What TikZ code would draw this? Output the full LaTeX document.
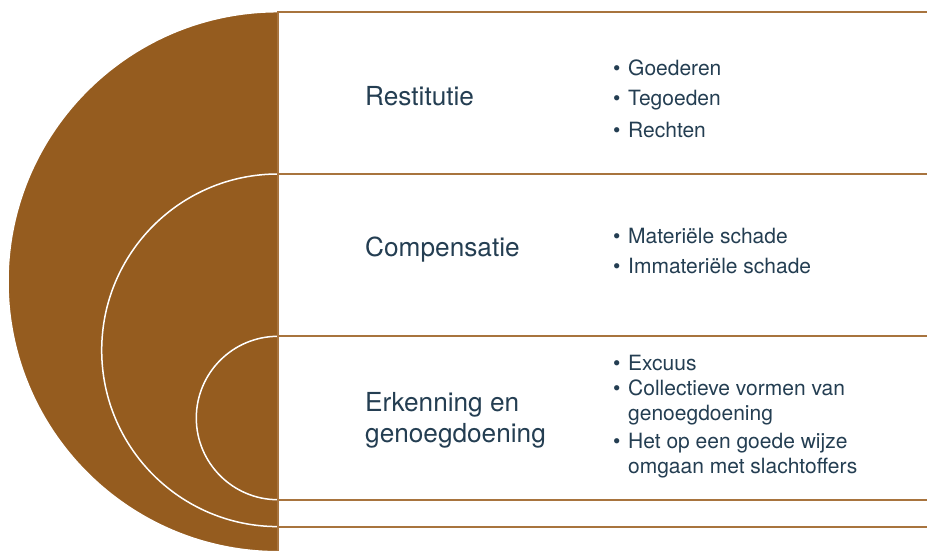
\documentclass[tikz,border=0pt]{standalone}
\usepackage{fontspec}
\setmainfont{TeX Gyre Heros}
\definecolor{ringbrown}{RGB}{149,92,31}
\definecolor{edgetan}{RGB}{168,116,62}
\definecolor{labelblue}{RGB}{36,62,82}
\newcommand{\bul}{\makebox[15pt][l]{\textbullet}}
\begin{document}
\begin{tikzpicture}[x=1pt,y=-1pt,
    ring/.style={fill=ringbrown,draw=white,line width=1.5pt},
    band/.style={fill=white,draw=edgetan,line width=1.8pt},
    title/.style={anchor=base west,inner sep=0pt,text=labelblue,
      font=\fontsize{26.2}{30.6}\selectfont,align=left},
    item/.style={anchor=base west,inner sep=0pt,text=labelblue,
      font=\fontsize{21}{25}\selectfont,align=left}]
  \clip (0,0) rectangle (927,550);
  \fill[white] (0,0) rectangle (927,550);
  % rings
  \draw[ring] (278,281.7) circle (270pt);
  \draw[ring] (278,350.3) circle (176.3pt);
  \draw[ring] (278,418) circle (81.7pt);
  % bands
  \draw[band] (278,11.7) rectangle (940,551.7);
  \draw[band] (278,174) rectangle (940,526.7);
  \draw[band] (278,336.3) rectangle (940,499.7);
  % titles (multi-line nodes sit on their last baseline)
  \node[title] (restitutie) at (365,105.7) {Restitutie};
  \node[title] (compensatie) at (365,256.7) {Compensatie};
  \node[title] (erkenning) at (365,442.3) {Erkenning en\\genoegdoening};
  % items
  \node[item] (goederen) at (613,75) {\bul Goederen};
  \node[item] (tegoeden) at (613,105.7) {\bul Tegoeden};
  \node[item] (rechten) at (613,137) {\bul Rechten};
  \node[item] (materieel) at (613,243.5) {\bul Materiële schade};
  \node[item] (immaterieel) at (613,273.5) {\bul Immateriële schade};
  \node[item] (excuus) at (613,370.7) {\bul Excuus};
  \node[item] (collectief) at (613,420.7) {\bul Collectieve vormen van\\\hspace*{15pt}genoegdoening};
  \node[item] (omgaan) at (613,473.5) {\bul Het op een goede wijze\\\hspace*{15pt}omgaan met slachtoffers};
\end{tikzpicture}
\end{document}
